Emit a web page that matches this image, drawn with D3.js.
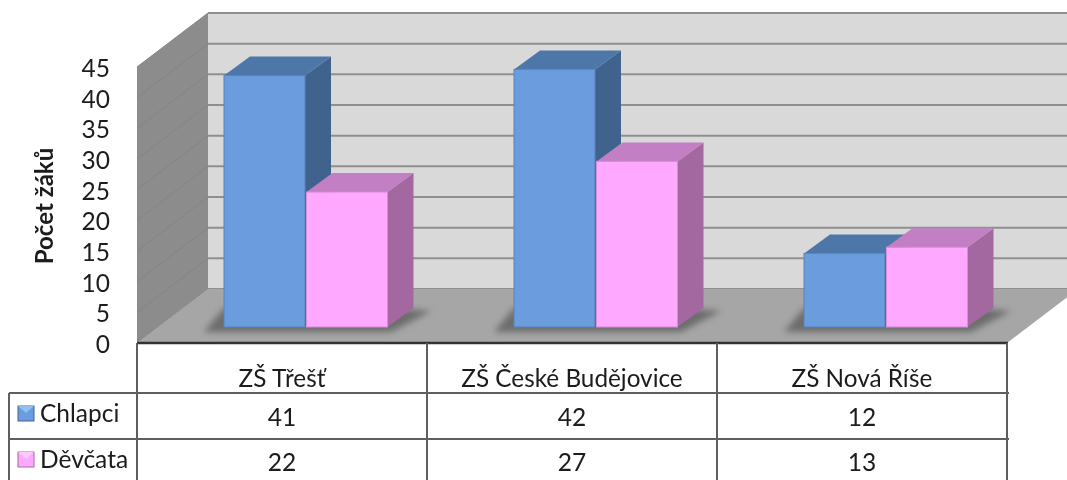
<!DOCTYPE html>
<html><head><meta charset="utf-8">
<script src="https://cdn.jsdelivr.net/npm/d3@7/dist/d3.min.js"></script>
<style>html,body{margin:0;padding:0;background:#fff;overflow:hidden}svg{display:block}
text{font-family:Lato,"Open Sans",sans-serif;fill:#1a1a1a}</style></head><body>
<svg id="c" width="1067" height="480"></svg>
<script>
const categories = ["ZŠ Třešť","ZŠ České Budějovice","ZŠ Nová Říše"];
const seriesNames = ["Chlapci","Děvčata"];
const chlapci = [41,42,12];
const devcata = [22,27,13];
const yTicks = [0,5,10,15,20,25,30,35,40,45];
const axisTitle = "Počet žáků";
const blueShades = {front:"#6a9cde",top:"#4e77a8",side:"#41638e"};
const pinkShades = {front:"#ffa8ff",top:"#c27fc4",side:"#a3689f"};

const svg = d3.select("#c");
const defs = svg.append("defs");
defs.append("filter").attr("id","soft").attr("filterUnits","userSpaceOnUse").attr("x",0).attr("y",0).attr("width",1067).attr("height",480)
  .append("feGaussianBlur").attr("stdDeviation",0.6);
defs.append("filter").attr("id","shadow").attr("x","-10%").attr("y","-30%").attr("width","120%").attr("height","160%")
  .append("feGaussianBlur").attr("stdDeviation",3);

const x = d3.scaleBand().domain(categories).range([137,1007]);
const y = d3.scaleLinear().domain([0,45]).range([343,67]);
const depthX = 71, depthY = -54;
const barDX = 24.5, barDY = -16;     // bar front plane inside the floor
const topDX = 26, topDY = -19;       // bar depth
const barW = 82;

const root = svg.append("g").attr("filter","url(#soft)");
const poly = (pts,fill,stroke) => root.append("polygon")
  .attr("points",pts.map(p=>p.join(",")).join(" ")).attr("fill",fill).attr("stroke",stroke||"none");

const L=x.range()[0], R=x.range()[1], y0=y(0), yT=y(45);
// back wall, side wall, floor
poly([[L+depthX,yT+depthY],[R+depthX,yT+depthY],[R+depthX,y0+depthY],[L+depthX,y0+depthY]],"#d9d9d9");
poly([[L,yT],[L+depthX,yT+depthY],[L+depthX,y0+depthY],[L,y0]],"#8c8c8c");
// gridlines
yTicks.forEach(t=>{
  root.append("line").attr("x1",L+depthX).attr("x2",R+depthX).attr("y1",y(t)+depthY).attr("y2",y(t)+depthY)
    .attr("stroke","#8f8f8f").attr("stroke-width",2);
  root.append("line").attr("x1",L).attr("x2",L+depthX).attr("y1",y(t)).attr("y2",y(t)+depthY)
    .attr("stroke","#848484").attr("stroke-width",1);
});
poly([[L,y0],[R,y0],[R+depthX,y0+depthY],[L+depthX,y0+depthY]],"#a6a6a6");

// bars
const sub = d3.scaleBand().domain(seriesNames).range([0,2*barW+1]);
const groupLeft = c => x(c)+x.bandwidth()/2+barDX-sub.range()[1]/2;
// floor shadows
categories.forEach(c=>{
  const l=groupLeft(c), r=l+sub.range()[1], b=y(0)+barDY;
  root.append("polygon").attr("filter","url(#shadow)").attr("fill","#666").attr("opacity",0.9)
    .attr("points",[[l-20,b+5],[r+2,b+5],[r+topDX+16,b+topDY+3],[r,b+topDY],[l,b+topDY]].map(p=>p.join(",")).join(" "));
});
const series = [[chlapci,blueShades],[devcata,pinkShades]];
categories.forEach((c,i)=>{
  series.forEach(([vals,col],s)=>{
    const l=groupLeft(c)+sub(seriesNames[s]), r=l+barW-1, t=y(vals[i])+barDY, b=y(0)+barDY;
    poly([[r,t],[r+topDX,t+topDY],[r+topDX,b+topDY],[r,b]],col.side);
    poly([[l,t],[l+topDX,t+topDY],[r+topDX,t+topDY],[r,t]],col.top);
    root.append("rect").attr("x",l).attr("y",t).attr("width",r-l).attr("height",b-t)
      .attr("fill",col.front).attr("stroke",d3.color(col.front).darker(0.5)).attr("stroke-width",1);
  });
});

// y axis through the library
const axis = root.append("g").attr("transform",`translate(110,1.5)`)
  .call(d3.axisLeft(y).tickValues(yTicks).tickSize(0).tickPadding(0));
axis.select(".domain").remove();
axis.selectAll("text").style("font-size","24.5px").style("font-family","Lato,sans-serif").attr("fill","#1a1a1a");
root.append("text").attr("transform","translate(53,206) rotate(-90)").attr("text-anchor","middle")
  .style("font-size","24px").style("font-weight","700").text(axisTitle);

// data table
const rowY = [343,393,439,481];
const tableColor="#5f5f5f";
const hline=(x1,x2,yy,w,col)=>root.append("line").attr("x1",x1).attr("x2",x2).attr("y1",yy).attr("y2",yy).attr("stroke",col||tableColor).attr("stroke-width",w||2);
const vline=(xx,y1,y2)=>root.append("line").attr("x1",xx).attr("x2",xx).attr("y1",y1).attr("y2",y2).attr("stroke",tableColor).attr("stroke-width",2);
hline(L,R+1,rowY[0],2.5,"#333");
hline(9,R+2,rowY[1]); hline(9,R+2,rowY[2]);
vline(9,rowY[1],rowY[3]);
x.domain().forEach(c=>vline(x(c),rowY[0],rowY[3]));
vline(R,rowY[0],rowY[3]);
categories.forEach((c,i)=>{
  const cx=x(c)+x.bandwidth()/2;
  root.append("text").attr("x",cx).attr("y",387).attr("text-anchor","middle").style("font-size","24.3px").text(c);
  root.append("text").attr("x",cx).attr("y",426).attr("text-anchor","middle").style("font-size","24.5px").text(chlapci[i]);
  root.append("text").attr("x",cx).attr("y",471).attr("text-anchor","middle").style("font-size","24.5px").text(devcata[i]);
});
series.forEach(([v,col],s)=>{
  const yy=[406,452][s];
  root.append("rect").attr("x",18).attr("y",yy).attr("width",16).attr("height",15).attr("fill",col.front).attr("stroke",col.side);
  root.append("polygon").attr("points",`18,${yy} 34,${yy} 26,${yy+7}`).attr("fill",col.top==="#4e77a8"?"#8fc0f0":"#ffc8ff");
  root.append("text").attr("x",40).attr("y",[422,468][s]).style("font-size","24.5px").text(seriesNames[s]);
});
</script></body></html>
